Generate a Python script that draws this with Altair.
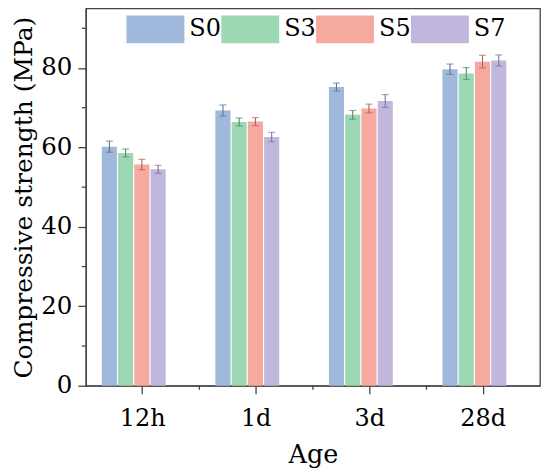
import altair as alt
import pandas as pd

ages = ["12h", "1d", "3d", "28d"]
series = ["S0", "S3", "S5", "S7"]
s0 = [60.2, 69.3, 75.2, 79.7]
s3 = [58.6, 66.4, 68.2, 78.6]
s5 = [55.7, 66.5, 69.8, 81.6]
s7 = [54.5, 62.6, 71.7, 81.9]
s0_err = [1.4, 1.4, 1.0, 1.3]
s3_err = [1.0, 1.0, 1.1, 1.5]
s5_err = [1.3, 1.0, 1.1, 1.6]
s7_err = [1.0, 1.2, 1.6, 1.4]
y_ticks = [0, 20, 40, 60, 80]
y_minor = [10, 30, 50, 70, 90]
x_minor = ["1d", "3d", "28d"]

bar_colors = ["#A0B8DB", "#9DD8B5", "#F5A99F", "#C1B6DC"]
err_colors = ["#5E7295", "#4F8A69", "#B0625A", "#7D70A0"]

rows = []
for name, vals, errs in zip(series, [s0, s3, s5, s7], [s0_err, s3_err, s5_err, s7_err]):
    for a, v, e in zip(ages, vals, errs):
        rows.append({"age": a, "mix": name, "value": v, "lo": v - e, "hi": v + e})
df = pd.DataFrame(rows)

W, H = 455, 378
FONT = "DejaVu Serif"
AX = "#444444"

xscale = alt.Scale(domain=ages, paddingInner=0, paddingOuter=0)
yscale = alt.Scale(domain=[0, 95], nice=False, zero=True)
offscale = alt.Scale(domain=series, range=[16, 80], paddingInner=0.07, paddingOuter=0)

xaxis = alt.Axis(title="Age", titleFont=FONT, titleFontSize=25.5, titleFontWeight="normal",
                 titleColor="black", titleBaseline="alphabetic", titleY=76.5,
                 labelFont=FONT, labelFontSize=24, labelColor="black", labelAngle=0,
                 labelBaseline="alphabetic", labelPadding=31.5,
                 tickSize=8, tickColor=AX, tickWidth=1.3,
                 domainColor=AX, domainWidth=1.3, grid=False)
yaxis = alt.Axis(title="Compressive strength (MPa)", values=y_ticks,
                 titleFont=FONT, titleFontSize=25, titleFontWeight="normal",
                 titleColor="black", titleAngle=270, titleAlign="center",
                 titleBaseline="alphabetic", titleX=-54, titleY=H / 2,
                 labelFont=FONT, labelFontSize=24.5, labelColor="black", labelPadding=6,
                 tickSize=8, tickColor=AX, tickWidth=1.3,
                 domainColor=AX, domainWidth=1.3, grid=False)

base = alt.Chart(df)

bars = base.mark_bar(opacity=1).encode(
    x=alt.X("age:N", scale=xscale, sort=ages, axis=xaxis),
    xOffset=alt.XOffset("mix:N", scale=offscale, sort=series),
    y=alt.Y("value:Q", scale=yscale, axis=yaxis),
    color=alt.Color("mix:N", scale=alt.Scale(domain=series, range=bar_colors),
                    legend=alt.Legend(orient="none", legendX=40.7, legendY=-8, direction="horizontal",
                                      columns=4, title=None, padding=0,
                                      symbolType="M-1,-0.48L1,-0.48L1,0.48L-1,0.48Z",
                                      symbolSize=3364, symbolStrokeWidth=0, symbolOpacity=1,
                                      labelFont=FONT, labelFontSize=24, labelColor="black",
                                      labelOffset=5, columnPadding=0)),
)

err_stroke = alt.Stroke("mix:N", scale=alt.Scale(domain=series, range=err_colors), legend=None)
err_fill = alt.Fill("mix:N", scale=alt.Scale(domain=series, range=err_colors), legend=None)

err = base.mark_rule(strokeWidth=1.1).encode(
    x=alt.X("age:N", scale=xscale, sort=ages, axis=xaxis),
    xOffset=alt.XOffset("mix:N", scale=offscale, sort=series),
    y=alt.Y("lo:Q", scale=yscale, axis=yaxis),
    y2="hi:Q",
    stroke=err_stroke,
)
cap_hi = base.mark_tick(orient="horizontal", size=7, thickness=1.1).encode(
    x=alt.X("age:N", scale=xscale, sort=ages, axis=xaxis),
    xOffset=alt.XOffset("mix:N", scale=offscale, sort=series),
    y=alt.Y("hi:Q", scale=yscale, axis=yaxis),
    fill=err_fill,
)
cap_lo = base.mark_tick(orient="horizontal", size=7, thickness=1.1).encode(
    x=alt.X("age:N", scale=xscale, sort=ages, axis=xaxis),
    xOffset=alt.XOffset("mix:N", scale=offscale, sort=series),
    y=alt.Y("lo:Q", scale=yscale, axis=yaxis),
    fill=err_fill,
)

ymin = alt.Chart(pd.DataFrame({"v": y_minor})).mark_rule(color=AX, strokeWidth=1.3).encode(
    y=alt.Y("v:Q", scale=yscale, axis=yaxis),
    x=alt.value(-4), x2=alt.value(0),
)
xmin = alt.Chart(pd.DataFrame({"age": x_minor})).mark_rule(color=AX, strokeWidth=1.3).encode(
    x=alt.X("age:N", scale=xscale, sort=ages, bandPosition=0, axis=xaxis),
    y=alt.value(H), y2=alt.value(H + 4),
)

chart = alt.layer(bars, err, cap_hi, cap_lo, ymin, xmin).properties(
    width=W, height=H,
    autosize=alt.AutoSizeParams(type="none"),
    padding={"left": 78, "top": 0, "right": 2, "bottom": 84},
).configure(font=FONT).configure_view(stroke=AX, strokeWidth=1.3).configure_axis(grid=False)

chart.save("out.html", embed_options={"renderer": "svg", "actions": False})
